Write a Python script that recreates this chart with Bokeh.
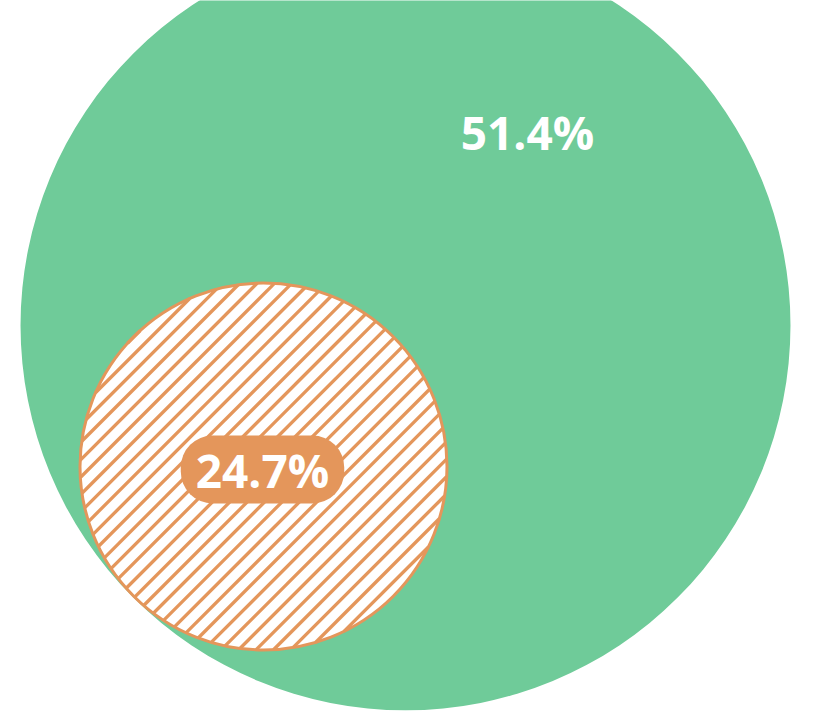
import numpy as np
from bokeh.plotting import figure
from bokeh.models import Range1d, Label, ColumnDataSource
from bokeh.embed import file_html
from bokeh.resources import INLINE

# data
names = ["Total", "Subset"]
shares = [51.4, 24.7]
labels = ["51.4%", "24.7%"]

# layout / style
W, H = 840, 720
PX_PER_UNIT = 7.49
GREEN = "#6fcb99"
ORANGE = "#e4965b"
big_center = (405, 325)
small_center = (263, 466)
big_label_pos = (527, 131)
small_label_pos = (262, 469)
HATCH_STEP = 17.4   # horizontal distance between hatch lines, px
HATCH_WIDTH = 3.3

p = figure(width=W, height=H, output_backend="svg", toolbar_location=None,
           x_range=Range1d(0, W), y_range=Range1d(H, 0), min_border=0,
           outline_line_color=None, background_fill_color="white",
           border_fill_color="white")
p.axis.visible = False
p.grid.visible = False

r_big = shares[0] * PX_PER_UNIT
r_small = shares[1] * PX_PER_UNIT - 1.5

big = ColumnDataSource(dict(x=[big_center[0]], y=[big_center[1]], r=[r_big]))
small = ColumnDataSource(dict(x=[small_center[0]], y=[small_center[1]], r=[r_small]))

p.circle("x", "y", radius="r", source=big, fill_color=GREEN, line_color=None)
p.circle("x", "y", radius="r", source=small, fill_color="white", line_color=None)

# "/" hatch of the subset circle: chords along lines x + y = c (screen y down)
cx, cy = small_center
s0 = cx + cy
cs = np.arange(np.ceil((s0 - r_small * np.sqrt(2)) / HATCH_STEP),
               np.floor((s0 + r_small * np.sqrt(2)) / HATCH_STEP) + 1) * HATCH_STEP
dist = (cs - s0) / np.sqrt(2)
half = np.sqrt(np.clip(r_small ** 2 - dist ** 2, 0, None))
mx = cx + (cs - s0) / 2
my = cy + (cs - s0) / 2
u = half / np.sqrt(2)
hatch = ColumnDataSource(dict(x0=mx - u, y0=my + u, x1=mx + u, y1=my - u))
p.segment("x0", "y0", "x1", "y1", source=hatch, line_color=ORANGE,
          line_width=HATCH_WIDTH, line_cap="butt")

p.circle("x", "y", radius="r", source=small, fill_color=None,
         line_color=ORANGE, line_width=3)

FONT = "Open Sans"
p.add_layout(Label(x=big_label_pos[0], y=big_label_pos[1], text=labels[0],
                   text_font=FONT, text_font_style="bold", text_font_size="46px",
                   text_color="white", text_align="center", text_baseline="middle"))
p.add_layout(Label(x=small_label_pos[0], y=small_label_pos[1], text=labels[1],
                   text_font=FONT, text_font_style="bold", text_font_size="46px",
                   text_color="white", text_align="center", text_baseline="middle",
                   background_fill_color=ORANGE, background_fill_alpha=1.0,
                   border_radius=32, padding=[15, 15, 3, 3]))

open("out.html", "w").write(file_html(p, INLINE))
